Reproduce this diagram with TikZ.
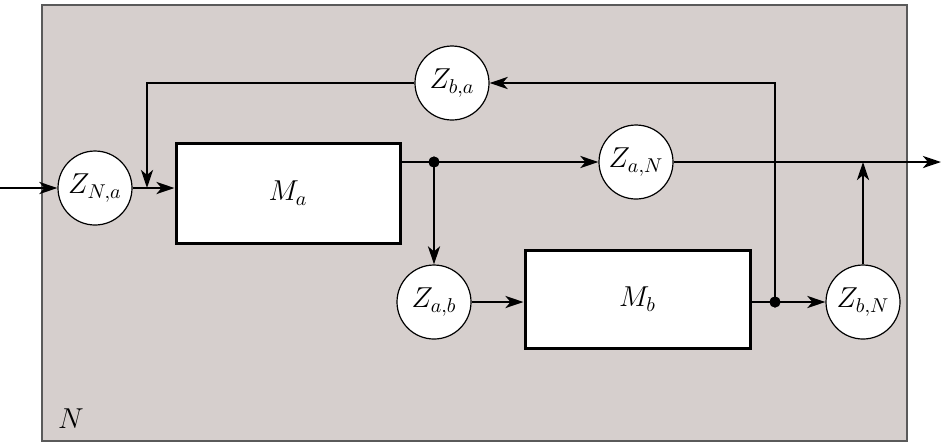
\documentclass[tikz,border=0pt]{standalone}
\usetikzlibrary{arrows.meta}
\definecolor{bgfill}{RGB}{214,207,205}
\definecolor{frame}{RGB}{90,90,90}
\begin{document}
\begin{tikzpicture}[x=0.5pt,y=-0.5pt,
  font=\fontsize{14}{16}\selectfont,
  zc/.style={circle,draw=black,line width=0.6pt,fill=white,minimum size=37pt,inner sep=0pt},
  blk/.style={draw=black,line width=1.5pt,fill=white,inner sep=0pt},
  conn/.style={line width=1.4pt},
  arr/.style={conn,-{Stealth[length=9pt,width=6pt,inset=2.5pt]}},
  jdot/.style={circle,fill=black,inner sep=0pt,minimum size=5.5pt}]
\useasboundingbox (0,0) rectangle (941,447);
\draw[frame,line width=0.9pt,fill=bgfill] (42,5) rectangle (907,441);
\node[anchor=base] (lblN) at (71,428) {$N$};
% blocks
\node[blk,minimum width=112pt,minimum height=50pt] (Ma) at (288,193) {$M_a$};
\node[blk,minimum width=112.5pt,minimum height=49pt] (Mb) at (637.5,299) {$M_b$};
% impedances
\node[zc] (ZNa) at (95,188) {$Z_{N,a}$};
\node[zc] (Zba) at (452,83) {$Z_{b,a}$};
\node[zc] (ZaN) at (636,162) {$Z_{a,N}$};
\node[zc] (Zab) at (434,302) {$Z_{a,b}$};
\node[zc] (ZbN) at (863,302) {$Z_{b,N}$};
% junctions and free ends
\coordinate (in) at (0,188);
\coordinate (out) at (941,162);
\coordinate (MaOut) at (400,162);
\coordinate (MbOut) at (750,302);
\node[jdot] (j1) at (434,162) {};
\node[jdot] (j2) at (775,302) {};
\coordinate (fbL) at (147,83);
\coordinate (fbIn) at (147,188);
\coordinate (fbR) at (775,83);
\coordinate (ZaNout) at (863,162);
% connectors
\draw[arr] (in) -- (ZNa.west);
\draw[arr] (ZNa.east) -- (Ma.west |- ZNa.east);
\draw[arr] (Zba.west) -- (fbL) -- (fbIn);
\draw[conn] (MaOut) -- (j1.center);
\draw[arr] (j1.center) -- (ZaN.west);
\draw[arr] (j1.center) -- (Zab.north);
\draw[arr] (Zab.east) -- (Mb.west |- Zab.east);
\draw[conn] (MbOut) -- (j2.center);
\draw[arr] (j2.center) -- (ZbN.west);
\draw[arr] (j2.center) -- (fbR) -- (Zba.east);
\draw[arr] (ZaN.east) -- (out);
\draw[arr] (ZbN.north) -- (ZaNout);
\node[jdot] at (j1) {};
\node[jdot] at (j2) {};
\end{tikzpicture}
\end{document}
